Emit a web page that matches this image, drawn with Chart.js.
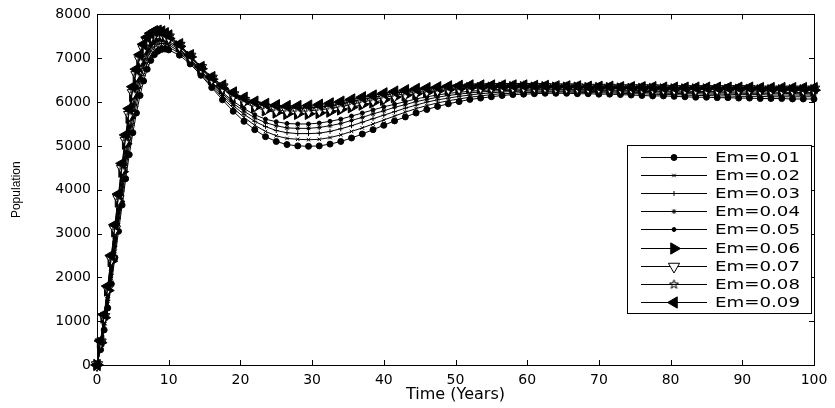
<!DOCTYPE html>
<html>
<head>
<meta charset="utf-8">
<script src="https://cdn.jsdelivr.net/npm/chart.js@4.4.0/dist/chart.umd.min.js"></script>
<style>
  html, body { margin: 0; padding: 0; background: #fff; }
</style>
</head>
<body>
<canvas id="popChart" width="835" height="408"></canvas>
<script>
// time axis (years) - denser sampling during the fast rise
const years = [0,0.5,1,1.5,2,2.5,3,3.5,4,4.5,5,5.5,6,6.5,7,7.5,8,8.5,9,9.5,10,
  11.5,13,14.5,16,17.5,19,20.5,22,23.5,25,26.5,28,29.5,31,32.5,34,35.5,37,38.5,40,
  41.5,43,44.5,46,47.5,49,50.5,52,53.5,55,56.5,58,59.5,61,62.5,64,65.5,67,68.5,70,
  71.5,73,74.5,76,77.5,79,80.5,82,83.5,85,86.5,88,89.5,91,92.5,94,95.5,97,98.5,100];

// population for each emigration rate
const em01 = [0,350,800,1300,1850,2450,3050,3650,4250,4800,5300,5750,6150,6480,6750,6950,7080,7160,7200,7210,7190,
  7070,6870,6610,6330,6050,5790,5560,5370,5210,5100,5030,5000,4990,5000,5040,5100,5180,5270,5370,5470,
  5570,5660,5750,5830,5900,5960,6010,6060,6090,6120,6150,6170,6180,6190,6200,6200,6200,6190,6190,6180,
  6180,6170,6160,6150,6140,6140,6130,6120,6110,6110,6100,6100,6090,6090,6080,6080,6080,6070,6070,6070];
const em02 = [0,390,860,1390,1970,2590,3200,3820,4430,4990,5490,5930,6320,6630,6880,7060,7180,7250,7270,7280,7250,
  7120,6910,6640,6370,6100,5860,5650,5470,5330,5230,5170,5150,5140,5150,5190,5250,5330,5410,5500,5590,
  5680,5770,5850,5920,5980,6030,6070,6110,6140,6170,6190,6200,6220,6220,6230,6230,6230,6220,6220,6210,
  6210,6200,6190,6190,6180,6170,6170,6160,6150,6150,6140,6140,6130,6130,6130,6120,6120,6120,6120,6120];
const em03 = [0,420,920,1470,2070,2710,3340,3970,4590,5160,5660,6090,6470,6770,7000,7160,7260,7320,7340,7330,7300,
  7160,6940,6680,6410,6150,5920,5720,5560,5440,5350,5300,5280,5280,5290,5330,5390,5460,5540,5620,5700,
  5780,5860,5930,6000,6050,6090,6130,6160,6190,6210,6230,6240,6250,6250,6250,6250,6250,6250,6240,6240,
  6230,6230,6220,6220,6210,6200,6200,6190,6190,6180,6180,6180,6170,6170,6170,6160,6160,6160,6160,6160];
const em04 = [0,450,970,1540,2160,2810,3460,4110,4730,5300,5800,6230,6600,6880,7100,7250,7340,7390,7400,7380,7350,
  7190,6970,6700,6440,6190,5970,5790,5640,5530,5460,5410,5400,5400,5420,5460,5510,5580,5650,5730,5800,
  5880,5940,6010,6060,6110,6150,6180,6210,6230,6250,6260,6270,6270,6280,6280,6280,6280,6270,6270,6260,
  6260,6250,6250,6240,6240,6230,6230,6220,6220,6210,6210,6210,6200,6200,6200,6200,6200,6190,6190,6190];
const em05 = [0,470,1010,1600,2240,2900,3560,4220,4850,5430,5930,6350,6710,6980,7190,7320,7400,7440,7450,7430,7390,
  7220,6990,6720,6460,6220,6020,5850,5710,5610,5550,5510,5500,5500,5520,5560,5610,5680,5750,5820,5890,
  5950,6010,6070,6120,6160,6200,6220,6250,6260,6280,6290,6290,6300,6300,6300,6300,6290,6290,6290,6280,
  6280,6270,6270,6260,6260,6250,6250,6250,6240,6240,6240,6230,6230,6230,6230,6230,6220,6220,6220,6220];
const em06 = [0,510,1080,1700,2370,3050,3730,4410,5050,5640,6140,6550,6890,7150,7330,7450,7510,7540,7530,7500,7450,
  7270,7030,6760,6520,6310,6130,5990,5880,5810,5760,5730,5730,5730,5750,5780,5830,5880,5940,5990,6050,
  6110,6150,6190,6220,6250,6280,6300,6320,6320,6330,6330,6340,6340,6330,6340,6330,6330,6330,6320,6320,
  6320,6310,6300,6300,6300,6290,6290,6290,6290,6290,6280,6280,6280,6280,6270,6270,6270,6270,6270,6270];
const em07 = [0,520,1100,1740,2420,3100,3790,4480,5120,5710,6210,6620,6960,7210,7390,7490,7550,7570,7560,7520,7480,
  7290,7040,6780,6540,6340,6160,6030,5930,5860,5820,5800,5790,5800,5820,5850,5890,5950,6000,6050,6100,
  6150,6190,6230,6260,6280,6310,6320,6340,6340,6350,6350,6350,6350,6350,6350,6340,6340,6340,6330,6330,
  6330,6320,6320,6320,6320,6310,6300,6300,6300,6300,6300,6300,6300,6300,6290,6290,6290,6290,6290,6290];
const em08 = [0,540,1130,1770,2460,3160,3850,4540,5190,5790,6290,6690,7020,7270,7440,7530,7590,7600,7590,7550,7500,
  7310,7060,6790,6560,6360,6190,6070,5970,5920,5880,5860,5860,5860,5880,5910,5960,6010,6060,6100,6160,
  6200,6230,6270,6290,6310,6340,6350,6360,6360,6360,6370,6370,6370,6360,6360,6350,6350,6350,6340,6340,
  6340,6330,6330,6330,6330,6320,6320,6320,6320,6320,6320,6320,6320,6320,6310,6310,6310,6310,6310,6310];
const em09 = [0,550,1150,1800,2500,3200,3900,4600,5250,5850,6350,6750,7080,7320,7480,7570,7620,7630,7610,7570,7520,
  7320,7070,6800,6570,6380,6220,6100,6010,5960,5930,5910,5910,5920,5940,5970,6010,6060,6110,6150,6200,
  6240,6270,6300,6320,6340,6360,6370,6380,6380,6380,6380,6380,6380,6370,6370,6360,6360,6360,6350,6350,
  6350,6340,6340,6340,6340,6330,6330,6330,6330,6330,6330,6330,6330,6330,6320,6320,6320,6320,6320,6320];

const seriesLabels = ['Em=0.01','Em=0.02','Em=0.03','Em=0.04','Em=0.05','Em=0.06','Em=0.07','Em=0.08','Em=0.09'];
const seriesValues = [em01, em02, em03, em04, em05, em06, em07, em08, em09];
const xTicks = [0, 100, 10];      // min, max, step
const yTicks = [0, 8000, 1000];

// pentagram marker (matlab 'p'), hollow
function makePentagram(size) {
  const c = document.createElement('canvas');
  c.width = size; c.height = size;
  const g = c.getContext('2d');
  const cx = size / 2, cy = size / 2, ro = size / 2 - 0.8, ri = ro * 0.4;
  g.beginPath();
  for (let k = 0; k < 10; k++) {
    const r = k % 2 ? ri : ro;
    const a = -Math.PI / 2 + k * Math.PI / 5;
    const px = cx + r * Math.cos(a), py = cy + r * Math.sin(a);
    k ? g.lineTo(px, py) : g.moveTo(px, py);
  }
  g.closePath();
  g.strokeStyle = '#000';
  g.lineWidth = 1;
  g.stroke();
  return c;
}

// marker look for each series
const markers = [
  { pointStyle: 'circle',   radius: 3,   rotation: 0,   fill: '#000' },
  { pointStyle: 'crossRot', radius: 2.5, rotation: 0,   fill: '#000' },
  { pointStyle: 'cross',    radius: 2.5, rotation: 0,   fill: '#000' },
  { pointStyle: 'star',     radius: 2.5, rotation: 0,   fill: '#000' },
  { pointStyle: 'circle',   radius: 2,   rotation: 0,   fill: '#000' },
  { pointStyle: 'triangle', radius: 6.5, rotation: 90,  fill: '#000' },
  { pointStyle: 'triangle', radius: 6.5, rotation: 180, fill: '#fff' },
  { pointStyle: makePentagram(11), radius: 5, rotation: 0, fill: 'rgba(0,0,0,0)' },
  { pointStyle: 'triangle', radius: 6.5, rotation: -90, fill: '#000' }
];

const datasets = seriesValues.map((vals, i) => ({
  label: seriesLabels[i],
  data: years.map((t, j) => ({ x: t, y: vals[j] })),
  borderColor: '#000',
  borderWidth: 1,
  backgroundColor: markers[i].fill,
  pointStyle: markers[i].pointStyle,
  pointRadius: markers[i].radius,
  pointRotation: markers[i].rotation,
  pointBorderColor: '#000',
  pointBackgroundColor: markers[i].fill,
  pointBorderWidth: 1,
  tension: 0,
  clip: false,
  order: 8 - i
}));

// box + inward ticks on all four sides, like matlab axes
const axesFrame = {
  id: 'axesFrame',
  afterDatasetsDraw(chart) {
    const { ctx, chartArea: a, scales: { x, y } } = chart;
    ctx.save();
    ctx.strokeStyle = '#000';
    ctx.lineWidth = 1;
    ctx.strokeRect(Math.round(a.left) + 0.5, Math.round(a.top) + 0.5,
      Math.round(a.right - a.left), Math.round(a.bottom - a.top));
    ctx.beginPath();
    x.ticks.forEach(t => {
      const px = Math.round(x.getPixelForValue(t.value)) + 0.5;
      ctx.moveTo(px, a.bottom); ctx.lineTo(px, a.bottom - 5);
      ctx.moveTo(px, a.top);    ctx.lineTo(px, a.top + 5);
    });
    y.ticks.forEach(t => {
      const py = Math.round(y.getPixelForValue(t.value)) + 0.5;
      ctx.moveTo(a.left, py);  ctx.lineTo(a.left + 5, py);
      ctx.moveTo(a.right, py); ctx.lineTo(a.right - 5, py);
    });
    ctx.stroke();
    ctx.restore();
  }
};

// legend box inside the axes (right side)
const boxLegend = {
  id: 'boxLegend',
  afterDraw(chart) {
    const ctx = chart.ctx;
    const bx = 627.5, by = 145.5, bw = 184, bh = 168;
    ctx.save();
    ctx.fillStyle = '#fff';
    ctx.fillRect(bx, by, bw, bh);
    ctx.strokeStyle = '#000';
    ctx.lineWidth = 1;
    ctx.strokeRect(bx, by, bw, bh);
    chart.data.datasets.forEach((ds, i) => {
      const yy = Math.round(156.5 + i * 18.2) + 0.5;
      ctx.strokeStyle = '#000';
      ctx.lineWidth = 1;
      ctx.beginPath();
      ctx.moveTo(641, yy); ctx.lineTo(707, yy);
      ctx.stroke();
      const m = markers[i];
      ctx.fillStyle = m.fill;
      ctx.strokeStyle = '#000';
      Chart.helpers.drawPoint(ctx, { pointStyle: m.pointStyle, radius: m.radius, rotation: m.rotation, borderWidth: 1 }, 674, yy);
      ctx.save();
      ctx.fillStyle = '#000';
      ctx.font = '14px "DejaVu Sans"';
      ctx.textBaseline = 'middle';
      ctx.translate(715, yy + 1);
      ctx.scale(1.3, 1);
      ctx.fillText(ds.label, 0, 0);
      ctx.restore();
    });
    ctx.restore();
  }
};

const ctxPop = document.getElementById('popChart');
const popChart = new Chart(ctxPop, {
  type: 'line',
  data: { datasets: datasets },
  options: {
    responsive: false,
    animation: false,
    events: [],
    layout: { padding: { left: 0, right: 21, top: 12, bottom: 0 } },
    scales: {
      x: {
        type: 'linear',
        min: xTicks[0], max: xTicks[1],
        grid: { display: false, drawTicks: false, tickLength: 0 },
        border: { display: false },
        ticks: {
          stepSize: xTicks[2],
          padding: 7,
          color: '#000',
          font: { family: 'DejaVu Sans', size: 14 },
          callback: v => String(v)
        },
        title: {
          display: true,
          text: 'Time (Years)',
          color: '#000',
          font: { family: 'DejaVu Sans', size: 16 },
          padding: { top: 0, bottom: 4 }
        },
        afterFit: s => { s.height = 43; }
      },
      y: {
        min: yTicks[0], max: yTicks[1],
        grid: { display: false, drawTicks: false, tickLength: 0 },
        border: { display: false },
        ticks: {
          stepSize: yTicks[2],
          padding: 6,
          color: '#000',
          font: { family: 'DejaVu Sans', size: 14 },
          callback: v => String(v)
        },
        title: {
          display: true,
          text: 'Population',
          color: '#000',
          font: { family: 'Liberation Sans', size: 12 },
          padding: { top: 9, bottom: 0 }
        },
        afterFit: s => { s.width = 97; }
      }
    },
    plugins: {
      legend: { display: false },
      tooltip: { enabled: false }
    }
  },
  plugins: [axesFrame, boxLegend]
});
</script>
</body>
</html>
